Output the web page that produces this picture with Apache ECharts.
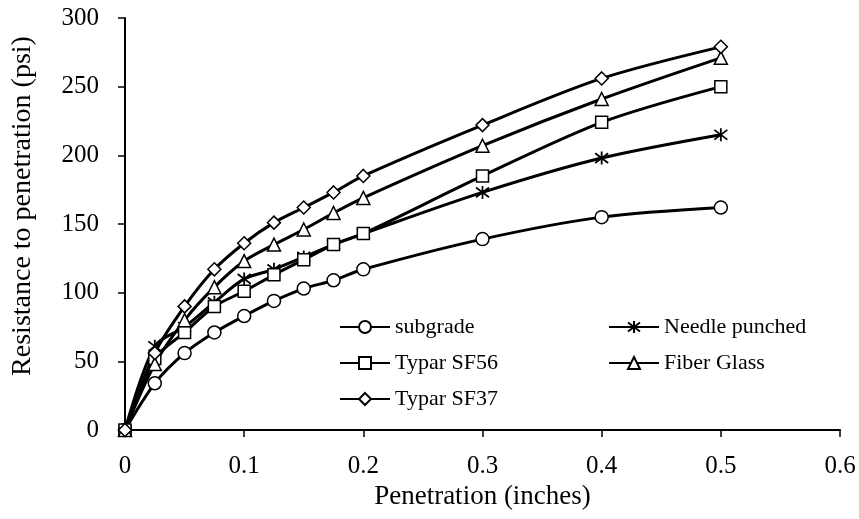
<!DOCTYPE html>
<html><head><meta charset="utf-8">
<script src="https://cdn.jsdelivr.net/npm/echarts@6/dist/echarts.min.js"></script>
<style>html,body{margin:0;padding:0;background:#fff}#c{width:859px;height:519px}</style>
</head><body><div id="c"></div>
<script>
const penetration = [0, 0.025, 0.05, 0.075, 0.1, 0.125, 0.15, 0.175, 0.2, 0.3, 0.4, 0.5];
const subgrade = [0, 34, 56, 71, 83, 94, 103, 109, 117, 139, 155, 162];
const needlePunched = [0, 61, 75, 93, 110, 117, 126, 135, 143, 173, 198, 215];
const typarSF56 = [0, 52, 71, 90, 101, 113, 124, 135, 143, 185, 224, 250];
const fiberGlass = [0, 48, 80, 104, 123, 135, 146, 158, 169, 207, 241, 271];
const typarSF37 = [0, 56, 90, 117, 136, 151, 162, 173, 185, 222, 256, 279];

const FONT = 'Liberation Serif';
const star = 'path://M0,-1L0,1M-0.75,-0.75L0.75,0.75M-0.75,0.75L0.75,-0.75';
const diamond = 'path://M0,-1L1,0L0,1L-1,0Z';

function mk(name, vals, symbol, size) {
  return {
    name, type: 'line', smooth: 0.3,
    data: penetration.map((x, i) => [x, vals[i]]),
    symbol, symbolSize: size, showAllSymbol: true,
    lineStyle: { color: '#000', width: 3 },
    itemStyle: { color: '#fff', borderColor: '#000', borderWidth: 1.5 },
    emphasis: { disabled: true },
    animation: false
  };
}
const series = [
  mk('subgrade', subgrade, 'circle', 13),
  mk('Needle punched', needlePunched, star, 13),
  mk('Typar SF56', typarSF56, 'rect', 12),
  mk('Fiber Glass', fiberGlass, 'triangle', 13),
  mk('Typar SF37', typarSF37, diamond, 13)
];
series[1].itemStyle = { color: 'none', borderColor: '#000', borderWidth: 1.8 };

const legendText = { fontFamily: FONT, fontSize: 22, color: '#000', lineHeight: 22 };
const chart = echarts.init(document.getElementById('c'));
chart.setOption({
  backgroundColor: '#fff',
  animation: false,
  grid: { left: 125, right: 19, top: 18, bottom: 89, containLabel: false },
  legend: [
    { data: ['subgrade', 'Typar SF56', 'Typar SF37'], orient: 'vertical', left: 334, top: 311,
      itemWidth: 50, itemHeight: 15, itemGap: 14, textStyle: legendText, selectedMode: false },
    { data: ['Needle punched', 'Fiber Glass'], orient: 'vertical', left: 603, top: 311,
      itemWidth: 50, itemHeight: 15, itemGap: 14, textStyle: legendText, selectedMode: false }
  ],
  xAxis: {
    type: 'value', min: 0, max: 0.6, interval: 0.1,
    name: 'Penetration (inches)', nameLocation: 'middle', nameGap: 42,
    nameTextStyle: { fontFamily: FONT, fontSize: 27, color: '#000' },
    axisLine: { show: true, lineStyle: { color: '#000', width: 2 } },
    axisTick: { show: true, length: 7, lineStyle: { color: '#000', width: 1.5 } },
    axisLabel: { fontFamily: FONT, fontSize: 25, color: '#000', margin: 24 },
    splitLine: { show: false }
  },
  yAxis: {
    type: 'value', min: 0, max: 300, interval: 50,
    name: 'Resistance to penetration (psi)', nameLocation: 'middle', nameGap: 88,
    nameTextStyle: { fontFamily: FONT, fontSize: 28, color: '#000', padding: [0, 0, 0, 36] },
    axisLine: { show: true, lineStyle: { color: '#000', width: 2 } },
    axisTick: { show: true, length: 7, lineStyle: { color: '#000', width: 1.5 } },
    axisLabel: { fontFamily: FONT, fontSize: 25, color: '#000', margin: 26 },
    splitLine: { show: false }
  },
  series
});
</script></body></html>
